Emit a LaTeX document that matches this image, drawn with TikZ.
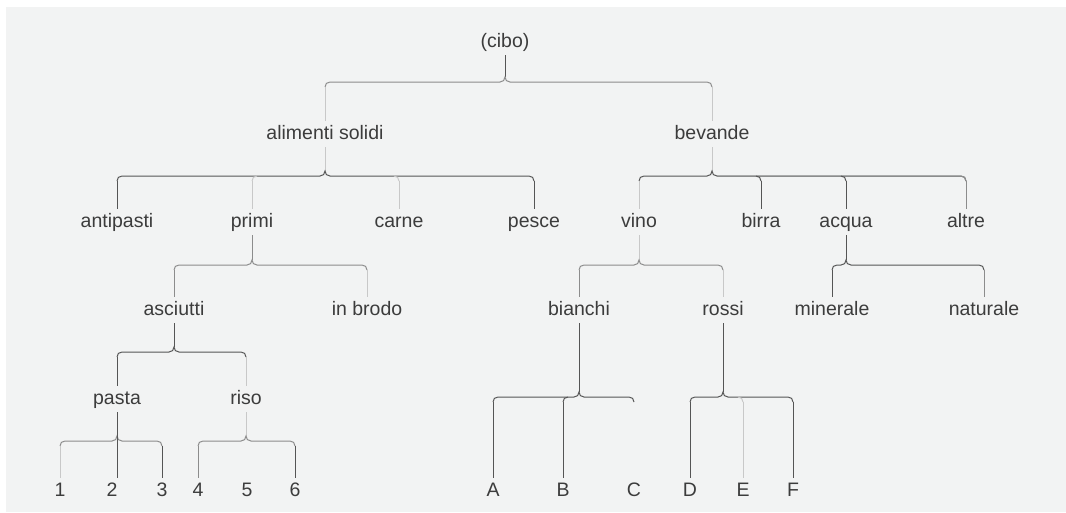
\documentclass[tikz,border=0pt]{standalone}
\usepackage{fontspec}
\setmainfont{Liberation Sans}
\definecolor{bg}{HTML}{F2F3F3}
\definecolor{dkc}{HTML}{555555}
\definecolor{mdc}{HTML}{8C8C8C}
\definecolor{ltc}{HTML}{C8C8C8}
\definecolor{txt}{HTML}{3C3C3C}
% horizontal brace: style, x-left, x-cusp, x-right, y
\newcommand\bracehz[5]{%
  \draw[#1] (#2,{#5+5}) .. controls (#2,{#5+2}) and ({#2+2},#5) .. ({#2+5},#5)
    -- ({#3-5},#5) .. controls ({#3-2},#5) and (#3,{#5-2}) .. (#3,{#5-5})
    .. controls (#3,{#5-2}) and ({#3+2},#5) .. ({#3+5},#5)
    -- ({#4-5},#5) .. controls ({#4-2},#5) and (#4,{#5+2}) .. (#4,{#5+5});}
% small corner for an inner child, left of the cusp / right of the cusp
\newcommand\cornerL[3]{\draw[#1] (#2,{#3+5}) .. controls (#2,{#3+2}) and ({#2+2},#3) .. ({#2+5},#3);}
\newcommand\cornerR[3]{\draw[#1] (#2,{#3+5}) .. controls (#2,{#3+2}) and ({#2-2},#3) .. ({#2-5},#3);}
\tikzset{
  lbl/.style={anchor=base, inner xsep=0pt, inner ysep=4pt, text height=14pt, text depth=4pt,
              text=txt, font=\fontsize{19.5}{22}\selectfont},
  dk/.style={draw=dkc, line width=1pt},
  md/.style={draw=mdc, line width=1pt},
  lt/.style={draw=ltc, line width=1pt},
}
\begin{document}
\begin{tikzpicture}[x=1pt,y=-1pt]
\useasboundingbox (0,0) rectangle (1066,512);
\fill[white] (0,0) rectangle (1066,512);
\fill[bg] (6,7) rectangle (1066,512);

% ---- nodes
\node[lbl] (cibo) at (505,47) {(cibo)};
\node[lbl] (als) at (325,139) {alimenti solidi};
\node[lbl] (bev) at (712,139) {bevande};
\node[lbl] (antipasti) at (117,227) {antipasti};
\node[lbl] (primi) at (252,227) {primi};
\node[lbl] (carne) at (399,227) {carne};
\node[lbl] (pesce) at (534,227) {pesce};
\node[lbl] (vino) at (639,227) {vino};
\node[lbl] (birra) at (761,227) {birra};
\node[lbl] (acqua) at (846,227) {acqua};
\node[lbl] (altre) at (966,227) {altre};
\node[lbl] (asciutti) at (174,315) {asciutti};
\node[lbl] (inbrodo) at (367,315) {in brodo};
\node[lbl] (bianchi) at (579,315) {bianchi};
\node[lbl] (rossi) at (723,315) {rossi};
\node[lbl] (minerale) at (832,315) {minerale};
\node[lbl] (naturale) at (984,315) {naturale};
\node[lbl] (pasta) at (117,404) {pasta};
\node[lbl] (riso) at (246,404) {riso};
\node[lbl] (n1) at (60,496) {1};
\node[lbl] (n2) at (112,496) {2};
\node[lbl] (n3) at (162,496) {3};
\node[lbl] (n4) at (198,496) {4};
\node[lbl] (n5) at (247,496) {5};
\node[lbl] (n6) at (295,496) {6};
\node[lbl] (nA) at (493,496) {A};
\node[lbl] (nB) at (563,496) {B};
\node[lbl] (nC) at (634,496) {C};
\node[lbl] (nD) at (690,496) {D};
\node[lbl] (nE) at (743,496) {E};
\node[lbl] (nF) at (793,496) {F};

% ---- cibo
\draw[dk] (cibo.south) -- (cibo.south |- 0,77);
\bracehz{md}{325}{505}{712}{82}
\draw[lt] (als.north) -- (als.north |- 0,87);
\draw[lt] (bev.north) -- (bev.north |- 0,87);

% ---- alimenti solidi
\draw[lt] (als.south) -- (als.south |- 0,171);
\bracehz{dk}{117}{325}{534}{176}
\draw[dk] (antipasti.north) -- (antipasti.north |- 0,181);
\draw[lt] (primi.north) -- (primi.north |- 0,181);
\cornerL{lt}{252}{176}
\draw[lt] (carne.north) -- (carne.north |- 0,181);
\cornerR{lt}{399}{176}
\draw[dk] (pesce.north) -- (pesce.north |- 0,181);

% ---- bevande
\draw[lt] (bev.south) -- (bev.south |- 0,171);
\bracehz{dk}{639}{712}{966}{176}
\draw[md] (717,176) -- (961,176) .. controls (964,176) and (966,178) .. (966,181);
\draw[lt] (vino.north) -- (vino.north |- 0,181);
\draw[dk] (birra.north) -- (birra.north |- 0,181);
\cornerR{dk}{761}{176}
\draw[dk] (acqua.north) -- (acqua.north |- 0,181);
\cornerR{dk}{846}{176}
\draw[md] (altre.north) -- (altre.north |- 0,181);

% ---- primi
\draw[md] (primi.south) -- (primi.south |- 0,260);
\bracehz{md}{174}{252}{367}{265}
\draw[md] (asciutti.north) -- (asciutti.north |- 0,270);
\draw[lt] (inbrodo.north) -- (inbrodo.north |- 0,270);

% ---- vino
\draw[lt] (vino.south) -- (vino.south |- 0,260);
\bracehz{md}{579}{639}{723}{265}
\draw[md] (bianchi.north) -- (bianchi.north |- 0,270);
\draw[lt] (rossi.north) -- (rossi.north |- 0,270);

% ---- acqua
\draw[dk] (acqua.south) -- (acqua.south |- 0,260);
\bracehz{dk}{832}{846}{984}{265}
\draw[dk] (minerale.north) -- (minerale.north |- 0,270);
\draw[md] (naturale.north) -- (naturale.north |- 0,270);

% ---- asciutti
\draw[dk] (asciutti.south) -- (asciutti.south |- 0,347);
\bracehz{dk}{117}{174}{246}{352}
\draw[dk] (pasta.north) -- (pasta.north |- 0,357);
\draw[lt] (riso.north) -- (riso.north |- 0,357);

% ---- pasta
\bracehz{md}{60}{117}{162}{441}
\draw[dk] (pasta.south) -- (pasta.south |- n2.north);
\draw[lt] (n1.north) -- (n1.north |- 0,446);
\draw[dk] (n3.north) -- (n3.north |- 0,446);

% ---- riso
\draw[lt] (riso.south) -- (riso.south |- 0,436);
\bracehz{md}{198}{246}{295}{441}
\draw[md] (n4.north) -- (n4.north |- 0,446);
\draw[dk] (n6.north) -- (n6.north |- 0,446);

% ---- bianchi
\draw[dk] (bianchi.south) -- (bianchi.south |- 0,392);
\bracehz{dk}{493}{579}{634}{397}
\draw[dk] (nA.north) -- (nA.north |- 0,402);
\draw[dk] (nB.north) -- (nB.north |- 0,402);
\cornerL{dk}{563}{397}

% ---- rossi
\draw[dk] (rossi.south) -- (rossi.south |- 0,392);
\bracehz{dk}{690}{723}{793}{397}
\draw[dk] (nD.north) -- (nD.north |- 0,402);
\draw[lt] (nE.north) -- (nE.north |- 0,402);
\cornerR{lt}{743}{397}
\draw[dk] (nF.north) -- (nF.north |- 0,402);
\end{tikzpicture}
\end{document}
